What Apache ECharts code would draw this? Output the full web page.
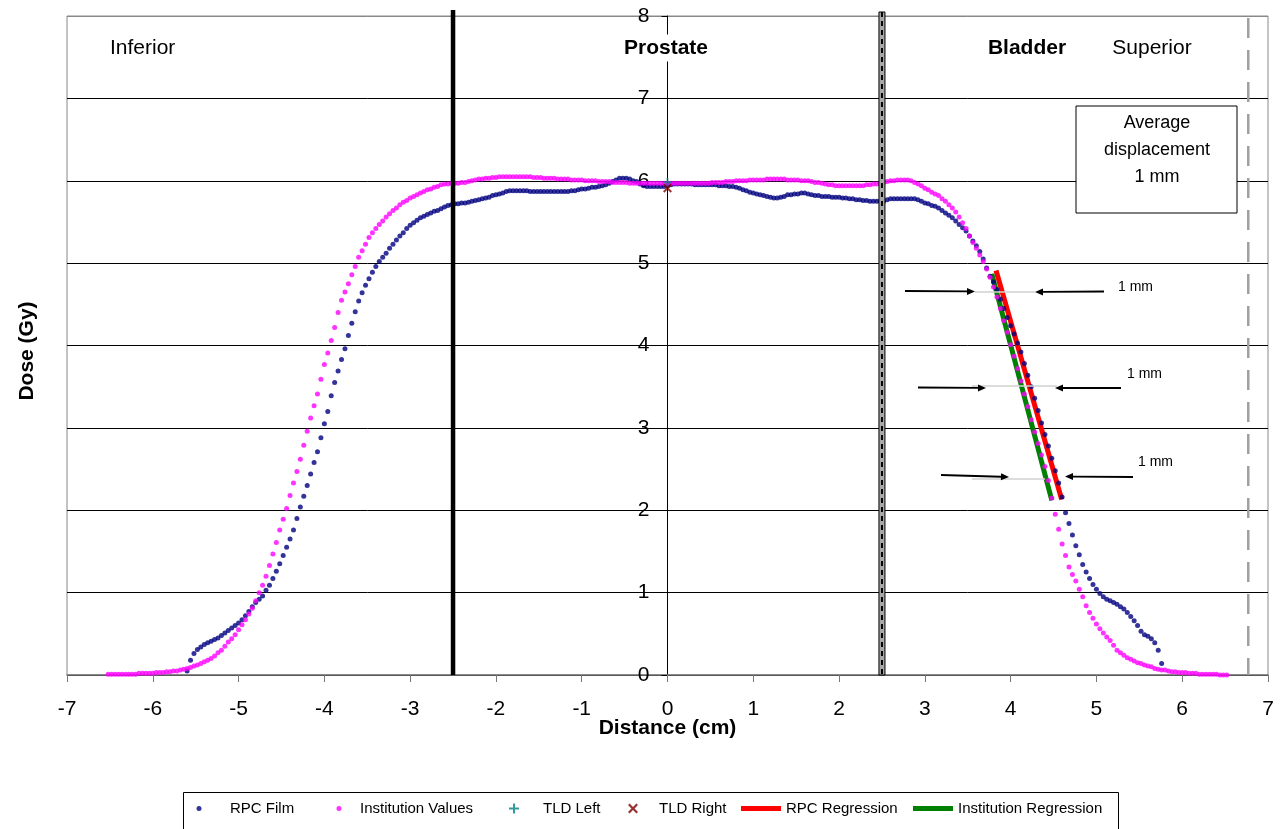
<!DOCTYPE html>
<html><head><meta charset="utf-8">
<script src="https://cdn.jsdelivr.net/npm/echarts@6/dist/echarts.min.js"></script>
<style>html,body{margin:0;padding:0;background:#fff}#c{width:1280px;height:829px}</style>
</head><body><div id="c"></div>
<script>
// ---------------- DATA ----------------
// RPC Film profile, sampled every 0.04 cm starting at -5.60 cm
const filmStart = -5.60, filmStep = 0.04;
const filmDose = [
0.05,0.18,0.26,0.31,0.34,0.37,0.39,0.41,0.43,0.45,
0.48,0.51,0.54,0.57,0.60,0.63,0.67,0.72,0.77,0.83,
0.88,0.92,0.96,1.03,1.09,1.17,1.26,1.35,1.45,1.55,
1.65,1.76,1.90,2.04,2.17,2.30,2.44,2.58,2.71,2.88,
3.05,3.20,3.39,3.55,3.69,3.83,3.96,4.12,4.27,4.41,
4.54,4.64,4.73,4.81,4.89,4.96,5.02,5.07,5.12,5.18,
5.23,5.28,5.33,5.37,5.42,5.46,5.49,5.52,5.55,5.57,
5.59,5.61,5.63,5.64,5.66,5.68,5.70,5.71,5.72,5.72,
5.73,5.73,5.74,5.75,5.76,5.77,5.78,5.79,5.80,5.82,
5.83,5.84,5.85,5.87,5.88,5.88,5.88,5.88,5.88,5.88,
5.87,5.87,5.87,5.87,5.87,5.87,5.87,5.87,5.87,5.87,
5.87,5.87,5.88,5.88,5.89,5.90,5.90,5.91,5.92,5.92,
5.93,5.94,5.95,5.97,5.99,6.01,6.03,6.03,6.03,6.02,
6.00,5.99,5.96,5.94,5.93,5.93,5.93,5.93,5.93,5.93,
5.94,5.95,5.96,5.96,5.96,5.96,5.96,5.96,5.95,5.95,
5.95,5.95,5.95,5.95,5.95,5.94,5.94,5.94,5.93,5.93,
5.92,5.91,5.89,5.88,5.86,5.85,5.84,5.83,5.82,5.81,
5.80,5.79,5.79,5.80,5.81,5.83,5.83,5.84,5.84,5.85,
5.85,5.84,5.83,5.82,5.82,5.81,5.81,5.81,5.80,5.80,
5.80,5.79,5.79,5.78,5.78,5.77,5.77,5.76,5.76,5.75,
5.75,5.75,5.75,5.75,5.77,5.78,5.78,5.78,5.78,5.78,
5.78,5.78,5.78,5.77,5.75,5.73,5.72,5.70,5.69,5.67,
5.64,5.61,5.58,5.55,5.51,5.47,5.43,5.39,5.33,5.27,
5.21,5.14,5.05,4.94,4.84,4.77,4.68,4.56,4.45,4.34,
4.24,4.14,4.03,3.92,3.78,3.64,3.50,3.36,3.21,3.06,
2.92,2.78,2.63,2.48,2.33,2.16,1.97,1.84,1.70,1.57,
1.46,1.34,1.25,1.17,1.10,1.04,0.99,0.95,0.92,0.90,
0.88,0.86,0.83,0.80,0.76,0.71,0.66,0.60,0.53,0.49,
0.47,0.44,0.39,0.30,0.14
];
// Institution Values profile, sampled every 0.04 cm starting at -6.52 cm
const instStart = -6.52, instStep = 0.04;
const instDose = [
0.01,0.01,0.01,0.01,0.01,0.01,0.01,0.01,0.01,0.02,
0.02,0.02,0.02,0.02,0.03,0.03,0.03,0.04,0.04,0.05,
0.05,0.06,0.07,0.08,0.09,0.11,0.12,0.14,0.16,0.18,
0.20,0.23,0.27,0.30,0.35,0.40,0.44,0.49,0.55,0.61,
0.67,0.74,0.81,0.90,1.00,1.09,1.20,1.33,1.47,1.61,
1.76,1.89,2.02,2.18,2.33,2.47,2.62,2.79,2.96,3.12,
3.27,3.41,3.59,3.77,3.91,4.06,4.22,4.40,4.55,4.65,
4.75,4.86,4.96,5.07,5.15,5.23,5.31,5.37,5.42,5.47,
5.51,5.56,5.60,5.64,5.67,5.71,5.74,5.76,5.79,5.81,
5.83,5.85,5.87,5.89,5.90,5.92,5.93,5.95,5.96,5.96,
5.97,5.97,5.97,5.98,5.98,5.99,6.00,6.01,6.02,6.02,
6.03,6.03,6.04,6.04,6.05,6.05,6.05,6.05,6.05,6.05,
6.05,6.05,6.05,6.05,6.04,6.04,6.04,6.03,6.03,6.03,
6.03,6.02,6.02,6.02,6.02,6.01,6.01,6.01,6.01,6.00,
6.00,6.00,6.00,5.99,5.99,5.99,5.99,5.98,5.98,5.98,
5.98,5.98,5.97,5.97,5.97,5.97,5.97,5.97,5.97,5.97,
5.97,5.97,5.97,5.97,5.97,5.97,5.97,5.97,5.97,5.97,
5.97,5.97,5.97,5.97,5.97,5.97,5.98,5.98,5.98,5.98,
5.99,5.99,5.99,6.00,6.00,6.00,6.00,6.01,6.01,6.01,
6.01,6.01,6.02,6.02,6.02,6.02,6.02,6.02,6.01,6.01,
6.01,6.01,6.00,6.00,6.00,5.99,5.98,5.98,5.97,5.96,
5.95,5.95,5.94,5.94,5.94,5.94,5.94,5.94,5.94,5.94,
5.94,5.95,5.95,5.96,5.96,5.97,5.98,5.99,6.00,6.00,
6.01,6.01,6.01,6.01,6.00,5.98,5.96,5.94,5.91,5.89,
5.86,5.84,5.82,5.78,5.75,5.71,5.67,5.62,5.56,5.49,
5.42,5.33,5.25,5.18,5.10,5.02,4.93,4.83,4.71,4.59,
4.45,4.30,4.16,4.01,3.87,3.72,3.57,3.41,3.26,3.10,
2.95,2.81,2.67,2.53,2.36,2.15,1.95,1.77,1.59,1.45,
1.31,1.22,1.14,1.04,0.95,0.84,0.76,0.69,0.62,0.56,
0.51,0.46,0.42,0.36,0.30,0.27,0.24,0.21,0.19,0.17,
0.15,0.14,0.12,0.11,0.10,0.08,0.07,0.06,0.06,0.05,
0.04,0.04,0.03,0.03,0.03,0.02,0.02,0.02,0.01,0.01,
0.01,0.01,0.01,0.01,0.00,0.00,0.00
];
const tldLeft = [[0, 5.98]];
const tldRight = [[0, 5.91]];
const rpcRegression = [[3.83, 4.91], [4.595, 2.13]];
const instRegression = [[3.78, 4.87], [4.48, 2.12]];
const seriesNames = ['RPC Film', 'Institution Values', 'TLD Left', 'TLD Right', 'RPC Regression', 'Institution Regression'];
const regionBoundaries = [-2.5, 2.5, 6.77];
const xAxisTitle = 'Distance (cm)';
const yAxisTitle = 'Dose (Gy)';

// ---------------- CHART ----------------
const FONT = '"Liberation Sans", Arial, sans-serif';
const chart = echarts.init(document.getElementById('c'));
const filmData = filmDose.map((d, i) => [+(filmStart + i * filmStep).toFixed(2), d]);
const instData = instDose.map((d, i) => [+(instStart + i * instStep).toFixed(2), d]);

const PLUS = 'path://M4,0h2v4h4v2h-4v4h-2v-4h-4v-2h4z';
const CROSS = 'path://M0,1.6L1.6,0L5,3.4L8.4,0L10,1.6L6.6,5L10,8.4L8.4,10L5,6.6L1.6,10L0,8.4L3.4,5Z';

const GRID = {left: 67, right: 12, top: 16, bottom: 154};
const gridW = 1280 - GRID.left - GRID.right;
const X_MIN = -7, X_MAX = 7;
// y axis crosses at x = 0
const yAxisOffset = -gridW * (0 - X_MIN) / (X_MAX - X_MIN);

const legendSpec = [
  {left: 196.5, w: 52, h: 5, icon: 'circle'},
  {left: 336.5, w: 32, h: 5, icon: 'circle'},
  {left: 509, w: 48, h: 10, icon: PLUS},
  {left: 628, w: 42, h: 10, icon: CROSS},
  {left: 741, w: 40, h: 5, icon: 'rect'},
  {left: 913, w: 40, h: 5, icon: 'rect'}
];
const splitColors = ['#000','#000','#000','#000','#000','#000','#000','#000','#888'];

chart.setOption({
  animation: false,
  backgroundColor: '#fff',
  textStyle: {fontFamily: FONT},
  grid: Object.assign({show: true, borderColor: '#888', borderWidth: 1}, GRID),
  xAxis: {
    type: 'value', min: X_MIN, max: X_MAX, interval: 1,
    axisLine: {onZero: false, lineStyle: {color: '#777', width: 1.5}},
    axisTick: {show: true, length: 7, lineStyle: {color: '#777'}},
    axisLabel: {fontSize: 21, color: '#000', margin: 24, fontFamily: FONT},
    splitLine: {show: false}
  },
  yAxis: {
    type: 'value', min: 0, max: 8, interval: 1, position: 'left', offset: yAxisOffset,
    axisLine: {show: true, onZero: false, lineStyle: {color: '#000', width: 1}},
    axisTick: {show: true, length: 6, lineStyle: {color: '#000'}},
    axisLabel: {fontSize: 21, color: '#000', margin: 18, fontFamily: FONT},
    splitLine: {show: true, lineStyle: {color: splitColors, width: 1}}
  },
  legend: legendSpec.map((s, i) => ({
    data: [{name: seriesNames[i], icon: s.icon}],
    left: s.left, top: 801, padding: 0,
    itemWidth: s.w, itemHeight: s.h, selectedMode: false,
    textStyle: {fontSize: 15, color: '#000', fontFamily: FONT}
  })),
  series: [
    {name: seriesNames[0], type: 'scatter', data: filmData, symbol: 'circle', symbolSize: 5,
     itemStyle: {color: '#000080'}, z: 3},
    {name: seriesNames[1], type: 'scatter', data: instData, symbol: 'circle', symbolSize: 5,
     itemStyle: {color: '#FF00FF'}, z: 3},
    {name: seriesNames[2], type: 'scatter', data: tldLeft, symbol: PLUS, symbolSize: 9,
     itemStyle: {color: '#008080'}, z: 4},
    {name: seriesNames[3], type: 'scatter', data: tldRight, symbol: CROSS, symbolSize: 9,
     itemStyle: {color: '#800000'}, z: 4},
    {name: seriesNames[4], type: 'line', data: rpcRegression, showSymbol: false, symbol: 'none',
     lineStyle: {color: '#FF0000', width: 5}, itemStyle: {color: '#FF0000'}, z: 2},
    {name: seriesNames[5], type: 'line', data: instRegression, showSymbol: false, symbol: 'none',
     lineStyle: {color: '#008000', width: 5}, itemStyle: {color: '#008000'}, z: 2}
  ]
});

// ---------------- ANNOTATIONS ----------------
const P = (x, y) => chart.convertToPixel({gridIndex: 0}, [x, y]);
const yTop = P(0, 8)[1], yBot = P(0, 0)[1];
const xa = P(regionBoundaries[0], 0)[0], xb = P(regionBoundaries[1], 0)[0], xc = P(regionBoundaries[2], 0)[0];
const xMid = P(0, 0)[0];

function arrow(x1, y1, x2, y2) {
  const ang = Math.atan2(y2 - y1, x2 - x1), L = 8, W = 3.5;
  const bx = x2 - L * Math.cos(ang), by = y2 - L * Math.sin(ang);
  return [
    {type: 'line', z: 20, shape: {x1, y1, x2: bx, y2: by}, style: {stroke: '#000', lineWidth: 1.8}},
    {type: 'polygon', z: 20, shape: {points: [[x2, y2],
      [bx + W * Math.sin(ang), by - W * Math.cos(ang)],
      [bx - W * Math.sin(ang), by + W * Math.cos(ang)]]}, style: {fill: '#000'}}
  ];
}
function greyLine(x1, x2, y) {
  return {type: 'line', z: 19, shape: {x1, y1: y, x2, y2: y}, style: {stroke: '#d0d0d0', lineWidth: 1.5}};
}
function txt(text, x, y, opt) {
  return {type: 'text', z: 21, style: Object.assign({text, x, y, fill: '#000',
    font: '21px ' + FONT, align: 'left', verticalAlign: 'middle'}, opt || {})};
}

const g = [
  // region boundaries
  {type: 'line', z: 15, shape: {x1: xa, y1: yTop - 6, x2: xa, y2: yBot}, style: {stroke: '#000', lineWidth: 4.5}},
  {type: 'rect', z: 15, shape: {x: xb - 3, y: yTop - 4, width: 6, height: yBot - yTop + 4}, style: {fill: '#a8a8a8', stroke: '#000', lineWidth: 1}},
  {type: 'line', z: 16, shape: {x1: xb, y1: yTop - 4, x2: xb, y2: yBot}, style: {stroke: '#000', lineWidth: 2, lineDash: [5, 4]}},
  {type: 'line', z: 15, shape: {x1: xc, y1: yTop + 2, x2: xc, y2: yBot}, style: {stroke: '#a0a0a0', lineWidth: 2.5, lineDash: [20, 12]}},
  // region labels
  txt('Inferior', 110, 48),
  txt('Prostate', 666, 48, {font: 'bold 21px ' + FONT, align: 'center', backgroundColor: '#fff', padding: [3, 4]}),
  txt('Bladder', 1027, 48, {font: 'bold 21px ' + FONT, align: 'center'}),
  txt('Superior', 1152, 48, {align: 'center'}),
  // displacement box
  {type: 'rect', z: 18, shape: {x: 1076, y: 106, width: 161, height: 107}, style: {fill: '#fff', stroke: '#000', lineWidth: 1}},
  txt('Average', 1157, 123, {font: '18px ' + FONT, align: 'center'}),
  txt('displacement', 1157, 150, {font: '18px ' + FONT, align: 'center'}),
  txt('1 mm', 1157, 177, {font: '18px ' + FONT, align: 'center'}),
  // 1 mm arrows
  greyLine(975, 1035, 292), ...arrow(905, 291, 975, 291.5), ...arrow(1104, 291.5, 1035, 292),
  txt('1 mm', 1118, 287, {font: '14px ' + FONT}),
  greyLine(972, 1057, 386), ...arrow(918, 387.5, 986, 388), ...arrow(1121, 388, 1055, 388),
  txt('1 mm', 1127, 374, {font: '14px ' + FONT}),
  greyLine(972, 1045, 479), ...arrow(941, 475, 1009, 477), ...arrow(1133, 477, 1065, 476.5),
  txt('1 mm', 1138, 462, {font: '14px ' + FONT}),
  // axis titles
  txt(xAxisTitle, xMid, 728, {font: 'bold 21px ' + FONT, align: 'center'}),
  {type: 'text', z: 21, x: 27, y: 351, rotation: Math.PI / 2,
   style: {text: yAxisTitle, x: 0, y: 0, font: 'bold 21px ' + FONT, fill: '#000', align: 'center', verticalAlign: 'middle'}},
  // legend frame
  {type: 'rect', z: 1, shape: {x: 183.5, y: 792.5, width: 935, height: 45}, style: {fill: 'none', stroke: '#000', lineWidth: 1}}
];
chart.setOption({graphic: g});
</script>
</body></html>
